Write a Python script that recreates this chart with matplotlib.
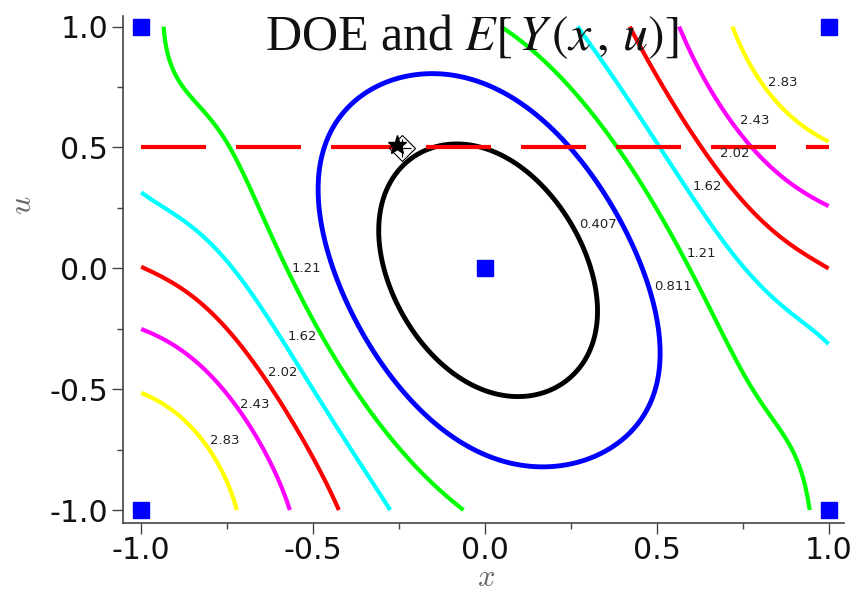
import numpy as np
import matplotlib.pyplot as plt

plt.rcParams['axes.unicode_minus'] = False

# contour levels and colours (Maple style)
levels = [0.407, 0.811, 1.21, 1.62, 2.02, 2.43, 2.83]
colors = ['black', 'blue', '#00ff00', '#00ffff', 'red', 'magenta', 'yellow']

# points (x, u)
c1_x = [-0.092, -0.209, -0.286, -0.306, -0.286, -0.218, -0.102, 0.063, 0.238, 0.315, 0.320, 0.267, 0.189, 0.092, 0.005]
c1_u = [0.517, 0.462, 0.310, 0.131, -0.076, -0.269, -0.435, -0.538, -0.476, -0.283, -0.035, 0.145, 0.310, 0.435, 0.490]

c2_x = [-0.189, -0.344, -0.451, -0.485, -0.480, -0.431, -0.344, -0.228, -0.053, 0.141, 0.335, 0.461, 0.504, 0.480, 0.412, 0.335, 0.238, 0.092, -0.053]
c2_u = [0.793, 0.724, 0.586, 0.379, 0.172, -0.103, -0.352, -0.545, -0.724, -0.821, -0.766, -0.628, -0.380, -0.103, 0.131, 0.310, 0.517, 0.683, 0.780]

c3_x = [-0.936, -0.907, -0.820, -0.742, -0.655, -0.577, -0.519, -0.441, -0.364, -0.267, -0.170, -0.068,
        0.034, 0.131, 0.209, 0.296, 0.364, 0.402, 0.480, 0.538, 0.606, 0.655, 0.713, 0.781, 0.858, 0.926, 0.946]
c3_u = [0.993, 0.849, 0.655, 0.476, 0.255, 0.021, -0.145, -0.352, -0.531, -0.697, -0.863, -0.993,
        1.007, 0.931, 0.821, 0.683, 0.559, 0.462, 0.296, 0.172, 0.007, -0.186, -0.352, -0.517, -0.669, -0.835, -0.987]

c4_x = [-1.0, -0.936, -0.829, -0.732, -0.655, -0.577, -0.500, -0.422, -0.354, -0.281,
        0.267, 0.344, 0.422, 0.509, 0.606, 0.674, 0.771, 0.887, 0.994]
c4_u = [0.317, 0.255, 0.145, 0.0, -0.145, -0.310, -0.462, -0.656, -0.807, -0.993,
        1.0, 0.849, 0.683, 0.503, 0.296, 0.145, -0.035, -0.186, -0.297]

c5_x = [-0.999, -0.887, -0.781, -0.693, -0.626, -0.558, -0.500, -0.431,
        0.422, 0.500, 0.577, 0.674, 0.761, 0.849, 0.926, 0.994]
c5_u = [0.005, -0.090, -0.214, -0.352, -0.462, -0.656, -0.793, -0.993,
        0.993, 0.793, 0.614, 0.421, 0.269, 0.159, 0.062, 0.007]

c6_x = [-0.999, -0.868, -0.781, -0.713, -0.655, -0.606, -0.567,
        0.567, 0.606, 0.674, 0.732, 0.791, 0.858, 0.926, 0.994]
c6_u = [-0.248, -0.352, -0.462, -0.600, -0.738, -0.863, -0.993,
        0.993, 0.862, 0.669, 0.586, 0.476, 0.379, 0.310, 0.255]

c7_x = [-0.999, -0.917, -0.829, -0.771, -0.722,
        0.723, 0.780, 0.839, 0.917, 0.994]
c7_u = [-0.517, -0.587, -0.697, -0.835, -0.993,
        0.986, 0.843, 0.697, 0.600, 0.531]

# a few values read between the lines (centre and corners)
anchor_x = [0.007, -1.0, 1.0, 1.0, -1.0]
anchor_u = [-0.01, 1.0, -1.0, 1.0, -1.0]
anchor_v = [0.10, 1.35, 1.35, 3.24, 3.24]

# DOE points
doe_x = [-1, 1, -1, 1, 0]
doe_u = [1, 1, -1, -1, 0]

# robust point and constraint
star_x, star_u = -0.257, 0.510
diam_x, diam_u = -0.242, 0.497
u_const = 0.5

# contour label positions
lab_txt = ['2.83', '2.43', '2.02', '1.62', '1.21', '0.811', '0.407',
           '1.21', '1.62', '2.02', '2.43', '2.83']
lab_x = [0.867, 0.786, 0.727, 0.646, 0.631, 0.547, 0.329,
         -0.518, -0.532, -0.588, -0.669, -0.756]
lab_u = [0.767, 0.613, 0.477, 0.340, 0.063, -0.077, 0.183,
         0.001, -0.284, -0.429, -0.562, -0.711]

# smooth surface through the read contour points
cx = [c1_x, c2_x, c3_x, c4_x, c5_x, c6_x, c7_x]
cu = [c1_u, c2_u, c3_u, c4_u, c5_u, c6_u, c7_u]
px = np.concatenate([np.array(a) for a in cx] + [np.array(anchor_x)])
pu = np.concatenate([np.array(a) for a in cu] + [np.array(anchor_u)])
pv = np.concatenate([np.full(len(a), lv) for a, lv in zip(cx, levels)] + [np.array(anchor_v)])

deg = 6
def design(x, u):
    return np.column_stack([x**i * u**j for i in range(deg + 1) for j in range(deg + 1 - i)])

coef = np.linalg.lstsq(design(px, pu), pv, rcond=None)[0]

g = np.linspace(-1, 1, 301)
gx, gu = np.meshgrid(g, g)
Z = (design(gx.ravel(), gu.ravel()) @ coef).reshape(gx.shape)

fig = plt.figure(figsize=(8.61, 5.92), dpi=100)
ax = fig.add_axes([0.1432, 0.116, 0.9803 - 0.1432, 0.973 - 0.116])

lw = [3.5, 3.5, 3.0, 3.0, 3.0, 3.0, 3.0]
ax.contour(gx, gu, Z, levels=levels, colors=colors, linewidths=lw)

ax.plot([-1, 1], [u_const, u_const], color='red', lw=3.0, dashes=(15.6, 7.2), zorder=3)

ax.plot(doe_x, doe_u, 's', color='blue', ms=11, mec='blue', ls='none', clip_on=False, zorder=4)
ax.plot(diam_x, diam_u, 'D', ms=13, mfc='none', mec='black', mew=0.8, zorder=5)
ax.plot(diam_x, diam_u, '+', ms=13, mec='black', mew=0.8, zorder=5)
ax.plot(star_x, star_u, '*', ms=14, color='black', zorder=6)

for t, x, u in zip(lab_txt, lab_x, lab_u):
    ax.text(x, u, t, fontsize=9.5, color='#222222', ha='center', va='center', zorder=7)

ax.set_xlim(-1.052, 1.045)
ax.set_ylim(-1.055, 1.044)
for s in ['top', 'right']:
    ax.spines[s].set_visible(False)
for s in ['left', 'bottom']:
    ax.spines[s].set_color('#444444')
    ax.spines[s].set_linewidth(1.2)

ax.set_xticks([-1.0, -0.5, 0.0, 0.5, 1.0])
ax.set_yticks([-1.0, -0.5, 0.0, 0.5, 1.0])
ax.set_xticks([-0.75, -0.25, 0.25, 0.75], minor=True)
ax.set_yticks([-0.75, -0.25, 0.25, 0.75], minor=True)
ax.tick_params(which='major', direction='out', length=8, width=1, color='#444444',
               labelsize=21.5, labelcolor='#111111', pad=3)
ax.tick_params(which='major', axis='x', pad=1)
ax.tick_params(which='minor', direction='out', length=4, width=1, color='#444444')

fig.text(0.548, 0.9155, r'DOE and $E\left[\,Y\,\left(x\,,\,u\right)\right]$',
         fontsize=36, family='Liberation Serif', color='#111111', ha='center', va='bottom' if False else 'baseline',
         math_fontfamily='stix')

fig.text(0.564, 0.0, r'$x$', fontsize=22, color='#666666', ha='center', va='bottom',
         math_fontfamily='cm')
fig.text(0.026, 0.653, r'$u$', fontsize=23, color='#666666', ha='center', va='center',
         rotation=90, math_fontfamily='cm')

fig.savefig('out.png', dpi=100)
